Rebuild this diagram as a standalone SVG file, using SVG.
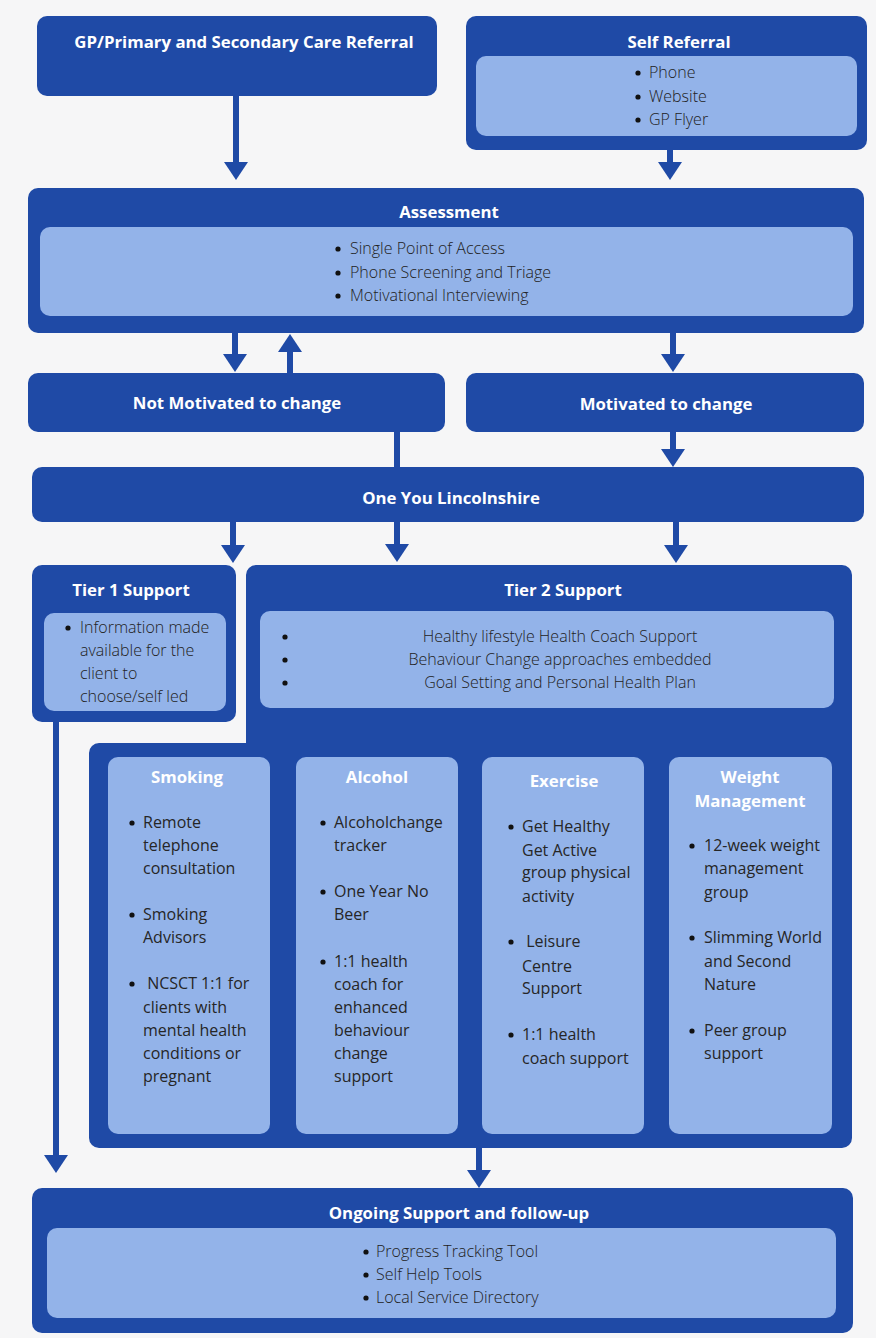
<svg xmlns="http://www.w3.org/2000/svg" width="876" height="1338" viewBox="0 0 876 1338">
<style>
.dk{fill:#1f4aa6}
.lt{fill:#93b3e9}
.h{font-family:"Open Sans","Liberation Sans",sans-serif;font-weight:bold;font-size:16.8px;fill:#ffffff;text-anchor:middle}
.t{font-family:"Open Sans","Liberation Sans",sans-serif;font-size:16px;fill:#262626}
.w{font-weight:300;fill:#222222}
.bu{fill:#111111}
.c{text-anchor:middle}
.ln{stroke:#1f4aa6;stroke-width:6;fill:none}
</style>
<defs>
<marker id="ah" viewBox="0 -12 18 24" refX="8" refY="0" markerWidth="18" markerHeight="24" markerUnits="userSpaceOnUse" orient="auto">
<path d="M0,-12 L18,0 L0,12 Z" fill="#1f4aa6"/>
</marker>
</defs>
<rect x="0" y="0" width="876" height="1338" fill="#f6f6f7"/>

<g id="connectors">
<line class="ln" x1="236" y1="96" x2="236" y2="170" marker-end="url(#ah)"/>
<line class="ln" x1="670" y1="150" x2="670" y2="170" marker-end="url(#ah)"/>
<line class="ln" x1="235" y1="333" x2="235" y2="362" marker-end="url(#ah)"/>
<line class="ln" x1="290" y1="373" x2="290" y2="344" marker-end="url(#ah)"/>
<line class="ln" x1="673" y1="333" x2="673" y2="362" marker-end="url(#ah)"/>
<line class="ln" x1="397" y1="432" x2="397" y2="468"/>
<line class="ln" x1="673" y1="432" x2="673" y2="457" marker-end="url(#ah)"/>
<line class="ln" x1="233" y1="522" x2="233" y2="553" marker-end="url(#ah)"/>
<line class="ln" x1="397" y1="522" x2="397" y2="552" marker-end="url(#ah)"/>
<line class="ln" x1="676" y1="522" x2="676" y2="553" marker-end="url(#ah)"/>
<line class="ln" x1="56" y1="721" x2="56" y2="1163" marker-end="url(#ah)"/>
<line class="ln" x1="479" y1="1147" x2="479" y2="1178" marker-end="url(#ah)"/>
</g>

<g id="gp-referral">
<rect class="dk" x="37" y="16" width="400" height="80" rx="10"/>
<text class="h" x="244" y="48">GP/Primary and Secondary Care Referral</text>
</g>

<g id="self-referral">
<rect class="dk" x="466" y="16" width="401" height="134" rx="10"/>
<text class="h" x="679" y="48">Self Referral</text>
<rect class="lt" x="476" y="56" width="381" height="80" rx="10"/>
<circle class="bu" cx="638" cy="73" r="2.6"/><circle class="bu" cx="638" cy="97" r="2.6"/><circle class="bu" cx="638" cy="120" r="2.6"/>
<text class="t w"><tspan x="649" y="78">Phone</tspan><tspan x="649" y="102">Website</tspan><tspan x="649" y="125">GP Flyer</tspan></text>
</g>

<g id="assessment">
<rect class="dk" x="28" y="188" width="836" height="145" rx="10"/>
<text class="h" x="449" y="218">Assessment</text>
<rect class="lt" x="40" y="227" width="813" height="89" rx="10"/>
<circle class="bu" cx="338" cy="249" r="2.6"/><circle class="bu" cx="338" cy="273" r="2.6"/><circle class="bu" cx="338" cy="296" r="2.6"/>
<text class="t w"><tspan x="350" y="254">Single Point of Access</tspan><tspan x="350" y="278">Phone Screening and Triage</tspan><tspan x="350" y="301">Motivational Interviewing</tspan></text>
</g>

<g id="not-motivated">
<rect class="dk" x="28" y="373" width="417" height="59" rx="10"/>
<text class="h" x="237" y="409">Not Motivated to change</text>
</g>

<g id="motivated">
<rect class="dk" x="466" y="373" width="398" height="59" rx="10"/>
<text class="h" x="666" y="410">Motivated to change</text>
</g>

<g id="one-you-lincolnshire">
<rect class="dk" x="32" y="467" width="832" height="55" rx="10"/>
<text class="h" x="451" y="504">One You Lincolnshire</text>
</g>

<g id="tier1">
<rect class="dk" x="32" y="565" width="204" height="157" rx="10"/>
<text class="h" x="131" y="596">Tier 1 Support</text>
<rect class="lt" x="44" y="613" width="182" height="98" rx="10"/>
<circle class="bu" cx="68" cy="628" r="2.6"/>
<text class="t w"><tspan x="80" y="633">Information made</tspan><tspan x="80" y="656">available for the</tspan><tspan x="80" y="679">client to</tspan><tspan x="80" y="702">choose/self led</tspan></text>
</g>

<g id="tier2">
<path class="dk" d="M256,565 H842 A10,10 0 0 1 852,575 V1138 A10,10 0 0 1 842,1148 H99 A10,10 0 0 1 89,1138 V753 A10,10 0 0 1 99,743 H246 V575 A10,10 0 0 1 256,565 Z"/>
<text class="h" x="563" y="596">Tier 2 Support</text>
<rect class="lt" x="260" y="611" width="574" height="97" rx="10"/>
<circle class="bu" cx="285" cy="637" r="2.6"/><circle class="bu" cx="285" cy="660" r="2.6"/><circle class="bu" cx="285" cy="683" r="2.6"/>
<text class="t w c"><tspan x="560" y="642">Healthy lifestyle Health Coach Support</tspan><tspan x="560" y="665">Behaviour Change approaches embedded</tspan><tspan x="560" y="688">Goal Setting and Personal Health Plan</tspan></text>
</g>

<g id="smoking">
<rect class="lt" x="108" y="757" width="162" height="377" rx="10"/>
<text class="h" x="187" y="783">Smoking</text>
<circle class="bu" cx="132" cy="823" r="2.6"/><circle class="bu" cx="132" cy="915" r="2.6"/><circle class="bu" cx="132" cy="984" r="2.6"/>
<text class="t"><tspan x="143" y="828">Remote</tspan><tspan x="143" y="851">telephone</tspan><tspan x="143" y="874">consultation</tspan><tspan x="143" y="920">Smoking</tspan><tspan x="143" y="943">Advisors</tspan><tspan x="143" y="989"> NCSCT 1:1 for</tspan><tspan x="143" y="1013">clients with</tspan><tspan x="143" y="1036">mental health</tspan><tspan x="143" y="1059">conditions or</tspan><tspan x="143" y="1082">pregnant</tspan></text>
</g>

<g id="alcohol">
<rect class="lt" x="296" y="757" width="162" height="377" rx="10"/>
<text class="h" x="377" y="783">Alcohol</text>
<circle class="bu" cx="323" cy="823" r="2.6"/><circle class="bu" cx="323" cy="892" r="2.6"/><circle class="bu" cx="323" cy="962" r="2.6"/>
<text class="t"><tspan x="334" y="828">Alcoholchange</tspan><tspan x="334" y="851">tracker</tspan><tspan x="334" y="897">One Year No</tspan><tspan x="334" y="920">Beer</tspan><tspan x="334" y="967">1:1 health</tspan><tspan x="334" y="990">coach for</tspan><tspan x="334" y="1013">enhanced</tspan><tspan x="334" y="1036">behaviour</tspan><tspan x="334" y="1059">change</tspan><tspan x="334" y="1082">support</tspan></text>
</g>

<g id="exercise">
<rect class="lt" x="482" y="757" width="162" height="377" rx="10"/>
<text class="h" x="564" y="787">Exercise</text>
<circle class="bu" cx="511" cy="827" r="2.6"/><circle class="bu" cx="511" cy="942" r="2.6"/><circle class="bu" cx="511" cy="1035" r="2.6"/>
<text class="t"><tspan x="522" y="832">Get Healthy</tspan><tspan x="522" y="856">Get Active</tspan><tspan x="522" y="878">group physical</tspan><tspan x="522" y="902">activity</tspan><tspan x="522" y="947"> Leisure</tspan><tspan x="522" y="972">Centre</tspan><tspan x="522" y="994">Support</tspan><tspan x="522" y="1040">1:1 health</tspan><tspan x="522" y="1064">coach support</tspan></text>
</g>

<g id="weight-management">
<rect class="lt" x="669" y="757" width="163" height="377" rx="10"/>
<text class="h"><tspan x="750" y="783">Weight</tspan><tspan x="750" y="807">Management</tspan></text>
<circle class="bu" cx="692" cy="846" r="2.6"/><circle class="bu" cx="692" cy="938" r="2.6"/><circle class="bu" cx="692" cy="1031" r="2.6"/>
<text class="t"><tspan x="704" y="851">12-week weight</tspan><tspan x="704" y="874">management</tspan><tspan x="704" y="898">group</tspan><tspan x="704" y="943">Slimming World</tspan><tspan x="704" y="967">and Second</tspan><tspan x="704" y="990">Nature</tspan><tspan x="704" y="1036">Peer group</tspan><tspan x="704" y="1059">support</tspan></text>
</g>

<g id="ongoing-support">
<rect class="dk" x="32" y="1188" width="821" height="145" rx="10"/>
<text class="h" x="459" y="1219">Ongoing Support and follow-up</text>
<rect class="lt" x="47" y="1228" width="789" height="90" rx="10"/>
<circle class="bu" cx="366" cy="1252" r="2.6"/><circle class="bu" cx="366" cy="1275" r="2.6"/><circle class="bu" cx="366" cy="1298" r="2.6"/>
<text class="t w"><tspan x="376" y="1257">Progress Tracking Tool</tspan><tspan x="376" y="1280">Self Help Tools</tspan><tspan x="376" y="1303">Local Service Directory</tspan></text>
</g>
</svg>
